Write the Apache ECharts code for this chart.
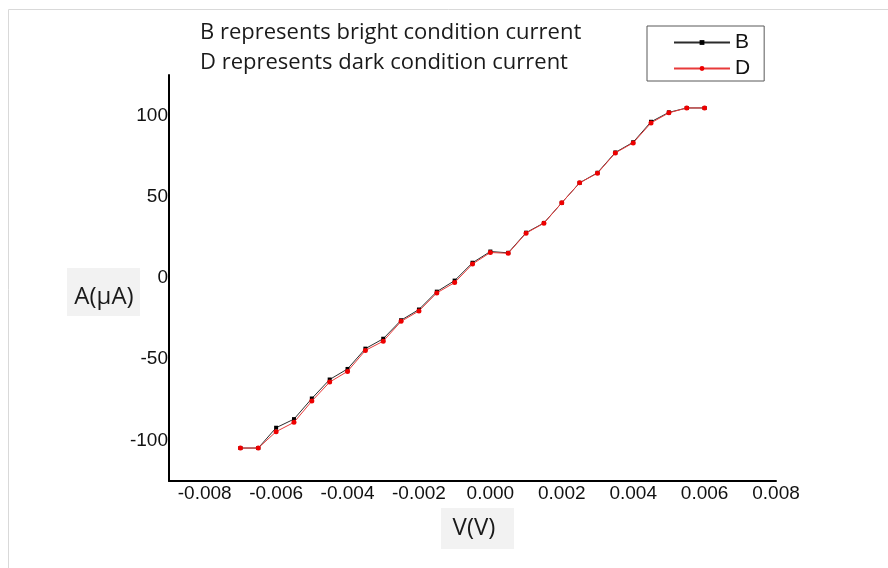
<!DOCTYPE html>
<html>
<head>
<meta charset="utf-8">
<script src="https://cdn.jsdelivr.net/npm/echarts@6/dist/echarts.min.js"></script>
<style>
  html, body { margin: 0; padding: 0; background: #fff; }
  #chart { width: 888px; height: 568px; }
</style>
</head>
<body>
<div id="chart"></div>
<script>
// voltage steps (V)
var voltage = [-0.007, -0.0065, -0.006, -0.0055, -0.005, -0.0045, -0.004, -0.0035, -0.003,
  -0.0025, -0.002, -0.0015, -0.001, -0.0005, 0, 0.0005, 0.001, 0.0015, 0.002, 0.0025,
  0.003, 0.0035, 0.004, 0.0045, 0.005, 0.0055, 0.006];
// current in uA
var brightCurrent = [-104.7, -104.7, -92.2, -86.9, -74.2, -62.5, -56.0, -43.5, -37.4,
  -26.0, -19.4, -8.4, -1.6, 9.4, 16.3, 15.5, 27.9, 33.9, 46.3, 58.6,
  64.8, 77.3, 83.6, 96.2, 102.0, 104.7, 104.7];
var darkCurrent = [-104.7, -104.7, -94.6, -88.9, -75.8, -64.1, -57.5, -44.6, -38.9,
  -26.7, -20.3, -9.2, -2.8, 8.6, 15.7, 15.2, 27.6, 33.7, 46.3, 58.6,
  64.5, 77.0, 83.2, 95.5, 101.7, 104.7, 104.7];
var xTickValues = [-0.008, -0.006, -0.004, -0.002, 0, 0.002, 0.004, 0.006, 0.008];
var xTickLabels = ['-0.008', '-0.006', '-0.004', '-0.002', '0.000', '0.002', '0.004', '0.006', '0.008'];
var yTickLabels = [-100, -50, 0, 50, 100];
var titleLines = ['B represents bright condition current', 'D represents dark condition current'];

function pairs(ys) {
  return voltage.map(function (v, i) { return [v, ys[i]]; });
}

var myChart = echarts.init(document.getElementById('chart'));
var option = {
  animation: false,
  title: {
    text: titleLines.join('\n'),
    left: 195,
    top: 13,
    textStyle: {
      fontFamily: 'Open Sans',
      fontSize: 22,
      fontWeight: 'normal',
      lineHeight: 30,
      color: '#1a1a1a'
    }
  },
  legend: {
    orient: 'vertical',
    left: 647,
    top: 26,
    padding: [6, 14, 2, 26],
    itemWidth: 56,
    itemHeight: 6,
    itemGap: 5,
    borderColor: '#595959',
    borderWidth: 1,
    textStyle: { fontFamily: 'Liberation Sans', fontSize: 21, lineHeight: 21, color: '#111' },
    data: ['B', 'D']
  },
  grid: { left: 169, right: 112, top: 75, bottom: 87 },
  xAxis: {
    type: 'value',
    min: -0.009,
    max: 0.008,
    interval: 0.001,
    splitLine: { show: false },
    axisTick: { show: false },
    axisLine: { onZero: false, lineStyle: { color: '#000', width: 2 } },
    axisLabel: {
      margin: 3,
      fontFamily: 'Liberation Sans',
      fontSize: 19,
      color: '#111',
      formatter: function (v) {
        for (var i = 0; i < xTickValues.length; i++) {
          if (Math.abs(v - xTickValues[i]) < 1e-9) return xTickLabels[i];
        }
        return '';
      }
    }
  },
  yAxis: {
    type: 'value',
    min: -125,
    max: 125,
    interval: 25,
    splitLine: { show: false },
    axisTick: { show: false },
    axisLine: { onZero: false, lineStyle: { color: '#000', width: 2 } },
    axisLabel: {
      margin: 1,
      fontFamily: 'Liberation Sans',
      fontSize: 19,
      color: '#111',
      formatter: function (v) {
        return yTickLabels.indexOf(v) >= 0 ? String(v) : '';
      }
    }
  },
  graphic: [
    {
      type: 'rect',
      shape: { x: 8.5, y: 9.5, width: 900, height: 600 },
      style: { fill: 'none', stroke: '#d9d9d9', lineWidth: 1 },
      silent: true
    },
    {
      type: 'rect',
      shape: { x: 67, y: 268, width: 73, height: 48 },
      style: { fill: '#f2f2f2' }
    },
    {
      type: 'text',
      x: 104, y: 297,
      style: { text: 'A(μA)', font: '24px "Open Sans"', fill: '#1a1a1a', align: 'center', verticalAlign: 'middle' }
    },
    {
      type: 'rect',
      shape: { x: 441, y: 508, width: 73, height: 41 },
      style: { fill: '#f2f2f2' }
    },
    {
      type: 'text',
      x: 474, y: 528,
      style: { text: 'V(V)', font: '24px "Open Sans"', fill: '#1a1a1a', align: 'center', verticalAlign: 'middle' }
    }
  ],
  series: [
    {
      name: 'B',
      type: 'line',
      data: pairs(brightCurrent),
      symbol: 'rect',
      symbolSize: 4,
      lineStyle: { color: '#2b2b2b', width: 1 },
      itemStyle: { color: '#000' },
      z: 2
    },
    {
      name: 'D',
      type: 'line',
      data: pairs(darkCurrent),
      symbol: 'circle',
      symbolSize: 5,
      lineStyle: { color: '#e83a3a', width: 1 },
      itemStyle: { color: '#ee0000' },
      z: 3
    }
  ]
};
myChart.setOption(option);
</script>
</body>
</html>
